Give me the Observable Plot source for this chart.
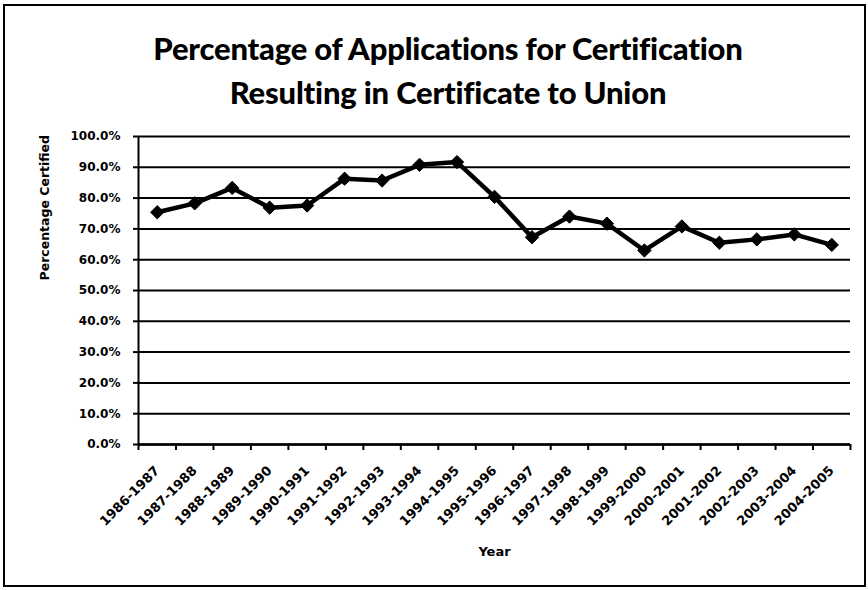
<!DOCTYPE html>
<html>
<head>
<meta charset="utf-8">
<script src="https://cdn.jsdelivr.net/npm/d3@7"></script>
<script src="https://cdn.jsdelivr.net/npm/@observablehq/plot@0.6"></script>
<style>
  html, body { margin: 0; padding: 0; background: #fff; }
  #wrap { position: relative; width: 868px; height: 590px; overflow: hidden; background: #fff; }
  #frame { position: absolute; left: 3px; top: 4px; width: 859px; height: 579px; border: 2px solid #000; pointer-events: none; }
  #title { box-sizing: border-box; width: 868px; height: 116px; padding-top: 26px; padding-left: 28px;
           text-align: center; font-family: Lato, "Open Sans", sans-serif; font-weight: 900; font-size: 31px;
           line-height: 44px; color: #000; letter-spacing: -0.2px; }
  #chart svg { display: block; }
</style>
</head>
<body>
<div id="wrap">
  <div id="title">Percentage of Applications for Certification<br>Resulting in Certificate to Union</div>
  <div id="chart"></div>
  <div id="frame"></div>
</div>
<script>
const years = ["1986-1987","1987-1988","1988-1989","1989-1990","1990-1991","1991-1992","1992-1993","1993-1994","1994-1995","1995-1996","1996-1997","1997-1998","1998-1999","1999-2000","2000-2001","2001-2002","2002-2003","2003-2004","2004-2005"];
const values = [0.754, 0.783, 0.833, 0.769, 0.776, 0.863, 0.857, 0.908, 0.917, 0.804, 0.673, 0.740, 0.717, 0.630, 0.708, 0.655, 0.666, 0.682, 0.648];
const yTicks = [0, 0.1, 0.2, 0.3, 0.4, 0.5, 0.6, 0.7, 0.8, 0.9, 1.0];
const xTitle = "Year";
const yTitle = "Percentage Certified";

const data = years.map((year, i) => ({i, year, value: values[i]}));
const centers = years.map((_, i) => i);
const boundaries = years.map((_, i) => i - 0.5).concat([years.length - 0.5]);

const chart = Plot.plot({
  width: 868,
  height: 474,
  marginTop: 20,
  marginBottom: 146,
  marginLeft: 138,
  marginRight: 18,
  style: {fontFamily: "DejaVu Sans", fontWeight: "bold", fontSize: "12px", color: "#000", background: "transparent"},
  x: {type: "linear", domain: [-0.5, years.length - 0.5]},
  y: {domain: [0, 1]},
  marks: [
    Plot.gridY(yTicks, {stroke: "#000", strokeOpacity: 1, strokeWidth: 2}),
    Plot.axisY(yTicks, {tickFormat: d3.format(".1%"), tickSize: 5, tickPadding: 13, stroke: "#000", strokeWidth: 2, label: null, fontSize: 12, fontWeight: "bold"}),
    Plot.axisX(centers, {tickFormat: i => years[i], tickRotate: -45, tickSize: 0, tickPadding: 24, label: null, fontSize: 13, fontWeight: "bold"}),
    Plot.axisX(boundaries, {tickFormat: () => "", tickSize: 6, stroke: "#000", strokeWidth: 2, label: null}),
    Plot.ruleX([-0.5], {stroke: "#000", strokeWidth: 2}),
    Plot.ruleY([0], {stroke: "#000", strokeWidth: 2.5}),
    Plot.line(data, {x: "i", y: "value", stroke: "#000", strokeWidth: 4.5, strokeLinejoin: "round"}),
    Plot.dot(data, {x: "i", y: "value", symbol: "diamond2", r: 6, fill: "#000", stroke: "#000", strokeWidth: 1}),
    Plot.text([xTitle], {frameAnchor: "bottom", dy: 111, fontSize: 13, fontWeight: "bold"}),
    Plot.text([yTitle], {frameAnchor: "left", dx: -94, dy: -10, rotate: -90, fontSize: 12.5, fontWeight: "bold"})
  ]
});
document.getElementById("chart").appendChild(chart);
</script>
</body>
</html>
